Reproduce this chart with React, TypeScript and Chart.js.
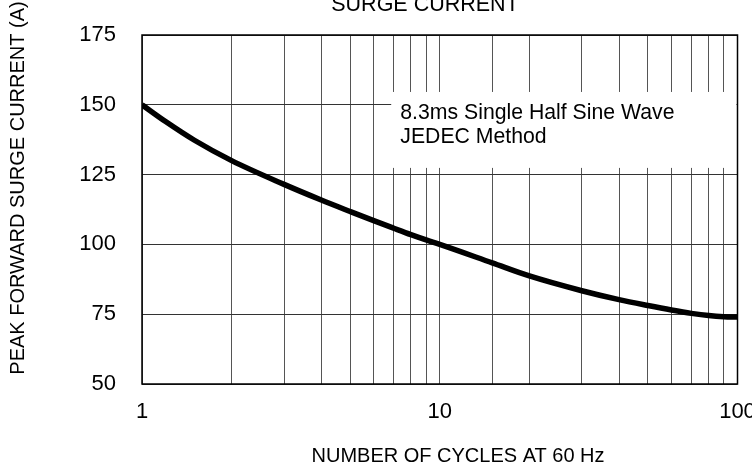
import React, { useEffect, useRef } from "react";
import { Chart, registerables } from "chart.js";

Chart.register(...registerables);

const cycles = [1, 1.2, 1.5, 2, 3, 4, 5, 6, 7, 8, 9, 10, 15, 20, 30, 40, 50, 60, 70, 80, 90, 100];
const surgeCurrent = [150, 144, 137.3, 130, 121.5, 115.9, 111.8, 108.5, 105.8, 103.5, 101.6, 100, 93.4, 88.7, 83.4, 80.2, 78.1, 76.5, 75.3, 74.5, 74.1, 74];
const xTickLabels = [1, 10, 100];
const yMin = 50;
const yMax = 175;
const yStep = 25;
const chartTitle = "SURGE CURRENT";
const xTitle = "NUMBER OF CYCLES AT 60 Hz";
const yTitle = "PEAK FORWARD SURGE CURRENT (A)";
const noteLines = ["8.3ms Single Half Sine Wave", "JEDEC Method"];
const noteBox = { xFrom: 6.87, yTop: 154.6, yBottom: 127.4 };
const noteText = { x: 7.37 };

const FONT = "Arial, 'Liberation Sans', sans-serif";

export default function App() {
  const ref = useRef<HTMLCanvasElement | null>(null);
  useEffect(() => {
    if (!ref.current) return;
    const decor = {
      id: "decor",
      beforeDatasetsDraw(chart: any) {
        const { ctx, scales, chartArea } = chart;
        const x0 = scales.x.getPixelForValue(noteBox.xFrom);
        const y0 = scales.y.getPixelForValue(noteBox.yTop);
        const y1 = scales.y.getPixelForValue(noteBox.yBottom);
        ctx.save();
        ctx.fillStyle = "#ffffff";
        ctx.fillRect(x0, y0, chartArea.right - x0 - 1, y1 - y0);
        ctx.fillStyle = "#000";
        ctx.font = `22px ${FONT}`;
        ctx.textAlign = "left";
        ctx.textBaseline = "alphabetic";
        const tx = scales.x.getPixelForValue(noteText.x);
        ctx.translate(tx, 0);
        ctx.scale(0.965, 1);
        ctx.fillText(noteLines[0], 0, y0 + 27.5);
        ctx.fillText(noteLines[1], 0, y0 + 51);
        ctx.restore();
      },
      afterDraw(chart: any) {
        const { ctx, chartArea } = chart;
        ctx.save();
        ctx.strokeStyle = "#000";
        ctx.lineWidth = 1.5;
        ctx.strokeRect(chartArea.left, chartArea.top, chartArea.right - chartArea.left, chartArea.bottom - chartArea.top);
        ctx.fillStyle = "#000";
        ctx.textBaseline = "alphabetic";
        ctx.textAlign = "center";
        ctx.font = `21.5px ${FONT}`;
        ctx.fillText(chartTitle, 425, 11);
        ctx.font = `20px ${FONT}`;
        ctx.fillText(xTitle, 458, 462);
        ctx.translate(24, 188);
        ctx.rotate(-Math.PI / 2);
        ctx.fillText(yTitle, 0, 0);
        ctx.restore();
      },
    };
    const chart = new Chart(ref.current, {
      type: "line",
      data: {
        datasets: [
          {
            data: cycles.map((c, i) => ({ x: c, y: surgeCurrent[i] })),
            borderColor: "#000",
            borderWidth: 5.5,
            pointRadius: 0,
            cubicInterpolationMode: "monotone",
            fill: false,
          },
        ],
      },
      options: {
        animation: false,
        responsive: false,
        devicePixelRatio: 1,
        layout: { padding: { top: 35, right: 14.5, bottom: 0, left: 0 } },
        plugins: { legend: { display: false }, tooltip: { enabled: false }, title: { display: false } },
        scales: {
          x: {
            type: "logarithmic",
            min: 1,
            max: 100,
            border: { display: false },
            grid: { color: "#555", lineWidth: 1, drawTicks: false },
            ticks: {
              autoSkip: false,
              maxRotation: 0,
              padding: 15,
              color: "#000",
              font: { family: FONT, size: 22 },
              callback: (v: any) => (xTickLabels.includes(Number(v)) ? String(v) : ""),
            },
            afterFit: (s: any) => {
              s.height = 84;
              s.paddingLeft = 0;
              s.paddingRight = 0;
            },
          },
          y: {
            type: "linear",
            min: yMin,
            max: yMax,
            border: { display: false },
            grid: { color: "#333", lineWidth: 1, drawTicks: false },
            ticks: {
              stepSize: yStep,
              padding: 26,
              color: "#000",
              font: { family: FONT, size: 22 },
            },
            afterFit: (s: any) => {
              s.width = 142;
              s.paddingTop = 0;
              s.paddingBottom = 0;
            },
          },
        },
      },
      plugins: [decor],
    });
    return () => chart.destroy();
  }, []);
  return (
    <div style={{ position: "absolute", left: 0, top: 0, width: 752, height: 468, background: "#fff" }}>
      <canvas ref={ref} width={752} height={468} />
    </div>
  );
}
